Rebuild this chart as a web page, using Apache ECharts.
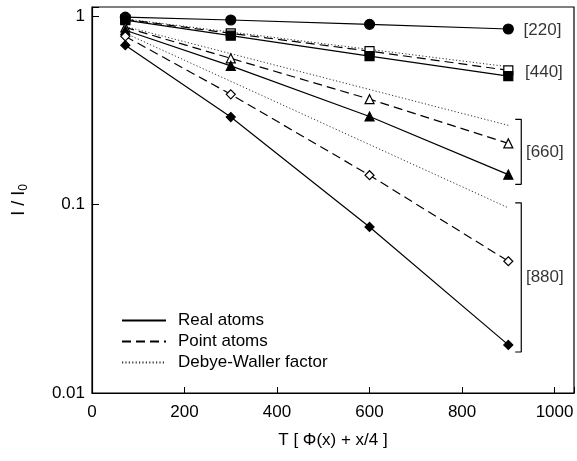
<!DOCTYPE html>
<html><head><meta charset="utf-8">
<script src="https://cdn.jsdelivr.net/npm/echarts@6/dist/echarts.min.js"></script>
<style>html,body{margin:0;padding:0;background:#fff}#c{width:577px;height:461px}</style>
</head><body><div id="c"></div>
<script>
// Temperatures (x axis)
const T = [72, 300, 600, 900];
const T_DW = [72, 900];
// Real atoms (solid)
const real220 = [0.985, 0.952, 0.903, 0.853];
const real440 = [0.95, 0.786, 0.613, 0.48];
const real660 = [0.84, 0.544, 0.293, 0.144];
const real880 = [0.70, 0.291, 0.076, 0.018];
// Point atoms (dashed)
const point440 = [0.96, 0.809, 0.651, 0.515];
const point660 = [0.87, 0.596, 0.362, 0.211];
const point880 = [0.78, 0.384, 0.143, 0.050];
// Debye-Waller factor (dotted), end points
const dw440 = [0.965, 0.538];
const dw660 = [0.88, 0.263];
const dw880 = [0.81, 0.096];
// Reflection labels and brackets
const reflLabels = [['[220]', 932, 0.843], ['[440]', 935, 0.504], ['[660]', 937, 0.189], ['[880]', 937, 0.041]];
const bracket660 = [[915, 0.283], [928, 0.283], [928, 0.128], [915, 0.128]];
const bracket880 = [[915, 0.102], [928, 0.102], [928, 0.0165], [915, 0.0165]];
const xTicks = [0, 200, 400, 600, 800, 1000];
const legendNames = ['Real atoms', 'Point atoms', 'Debye-Waller factor'];

const FONT = 'Liberation Sans, Arial, Helvetica, sans-serif';
const FS = 17;
const pair = (xs, ys) => xs.map((x, i) => [x, ys[i]]);
const solid = {color: '#000', width: 1.2, type: 'solid'};
const dashed = {color: '#000', width: 1.2, type: [9, 5]};
const dotted = {color: '#333', width: 1, type: [1.2, 2.2]};

function s(name, ys, symbol, filled, ls) {
  return {
    type: 'line', name: name, data: pair(T, ys), symbol: symbol, symbolSize: symbol === 'circle' ? 10 : 9,
    lineStyle: ls, itemStyle: {color: filled ? '#000' : '#fff', borderColor: '#000', borderWidth: 1.2},
    z: 3, silent: true, animation: false
  };
}
function dw(ys) {
  return {type: 'line', data: pair(T_DW, ys), symbol: 'none', lineStyle: dotted, z: 2, silent: true, animation: false};
}
function br(d) {
  return {type: 'line', data: d, symbol: 'none', lineStyle: {color: '#000', width: 1.2}, silent: true, animation: false};
}

const series = [
  s('r220', real220, 'circle', true, solid),
  dw(dw440), dw(dw660), dw(dw880),
  s('p440', point440, 'rect', false, dashed),
  s('r440', real440, 'rect', true, solid),
  s('p660', point660, 'triangle', false, dashed),
  s('r660', real660, 'triangle', true, solid),
  s('p880', point880, 'diamond', false, dashed),
  s('r880', real880, 'diamond', true, solid),
  br(bracket660), br(bracket880),
  {type: 'scatter', data: reflLabels.map(l => [l[1], l[2], l[0]]), symbolSize: 1, itemStyle: {color: 'rgba(0,0,0,0)'},
   label: {show: true, position: 'right', distance: 0, formatter: p => p.data[2], color: '#000', fontSize: FS, fontFamily: FONT},
   silent: true, animation: false},
  {type: 'line', name: legendNames[0], data: [], symbol: 'none', lineStyle: solid, itemStyle: {color: '#000'}},
  {type: 'line', name: legendNames[1], data: [], symbol: 'none', lineStyle: dashed, itemStyle: {color: '#000'}},
  {type: 'line', name: legendNames[2], data: [], symbol: 'none', lineStyle: dotted, itemStyle: {color: '#000'}}
];

const chart = echarts.init(document.getElementById('c'), null, {renderer: 'canvas'});
chart.setOption({
  animation: false,
  backgroundColor: '#fff',
  grid: {left: 92, right: 3, top: 7, bottom: 68, show: true, borderColor: '#000', borderWidth: 1.2, backgroundColor: 'transparent'},
  legend: {
    data: legendNames, orient: 'vertical', left: 116, top: 307, itemWidth: 44, itemHeight: 10, itemGap: 4,
    itemStyle: {opacity: 0},
    textStyle: {fontSize: FS, fontFamily: FONT, color: '#000', padding: [0, 0, 0, 7]}, selectedMode: false
  },
  xAxis: {
    type: 'value', min: 0, max: 1042, interval: 200,
    axisLine: {lineStyle: {color: '#000', width: 1.2}},
    axisTick: {inside: true, length: 6, lineStyle: {color: '#000'}},
    splitLine: {show: false},
    axisLabel: {fontSize: FS, fontFamily: FONT, color: '#000', margin: 11, formatter: v => xTicks.includes(v) ? String(v) : ''},
    name: 'T [ Φ(x) + x/4 ]', nameLocation: 'middle', nameGap: 39,
    nameTextStyle: {fontSize: FS, fontFamily: FONT, color: '#000'}
  },
  yAxis: {
    type: 'log', logBase: 10, min: 0.01, max: 1.116,
    axisLine: {lineStyle: {color: '#000', width: 1.2}},
    axisTick: {inside: true, length: 7, lineStyle: {color: '#000'}},
    minorTick: {show: false},
    splitLine: {show: false},
    axisLabel: {fontSize: FS, fontFamily: FONT, color: '#000', margin: 7, formatter: v => (v > 1.05 ? '' : String(+v.toPrecision(3)))},
    name: 'I / I{s|0}', nameLocation: 'middle', nameGap: 62, nameRotate: 90,
    nameTextStyle: {fontSize: 18, fontFamily: FONT, color: '#000', rich: {s: {fontSize: 12, fontFamily: FONT, color: '#000', verticalAlign: 'bottom', padding: [9, 0, 0, 0]}}}
  },
  series: series
});
</script></body></html>
